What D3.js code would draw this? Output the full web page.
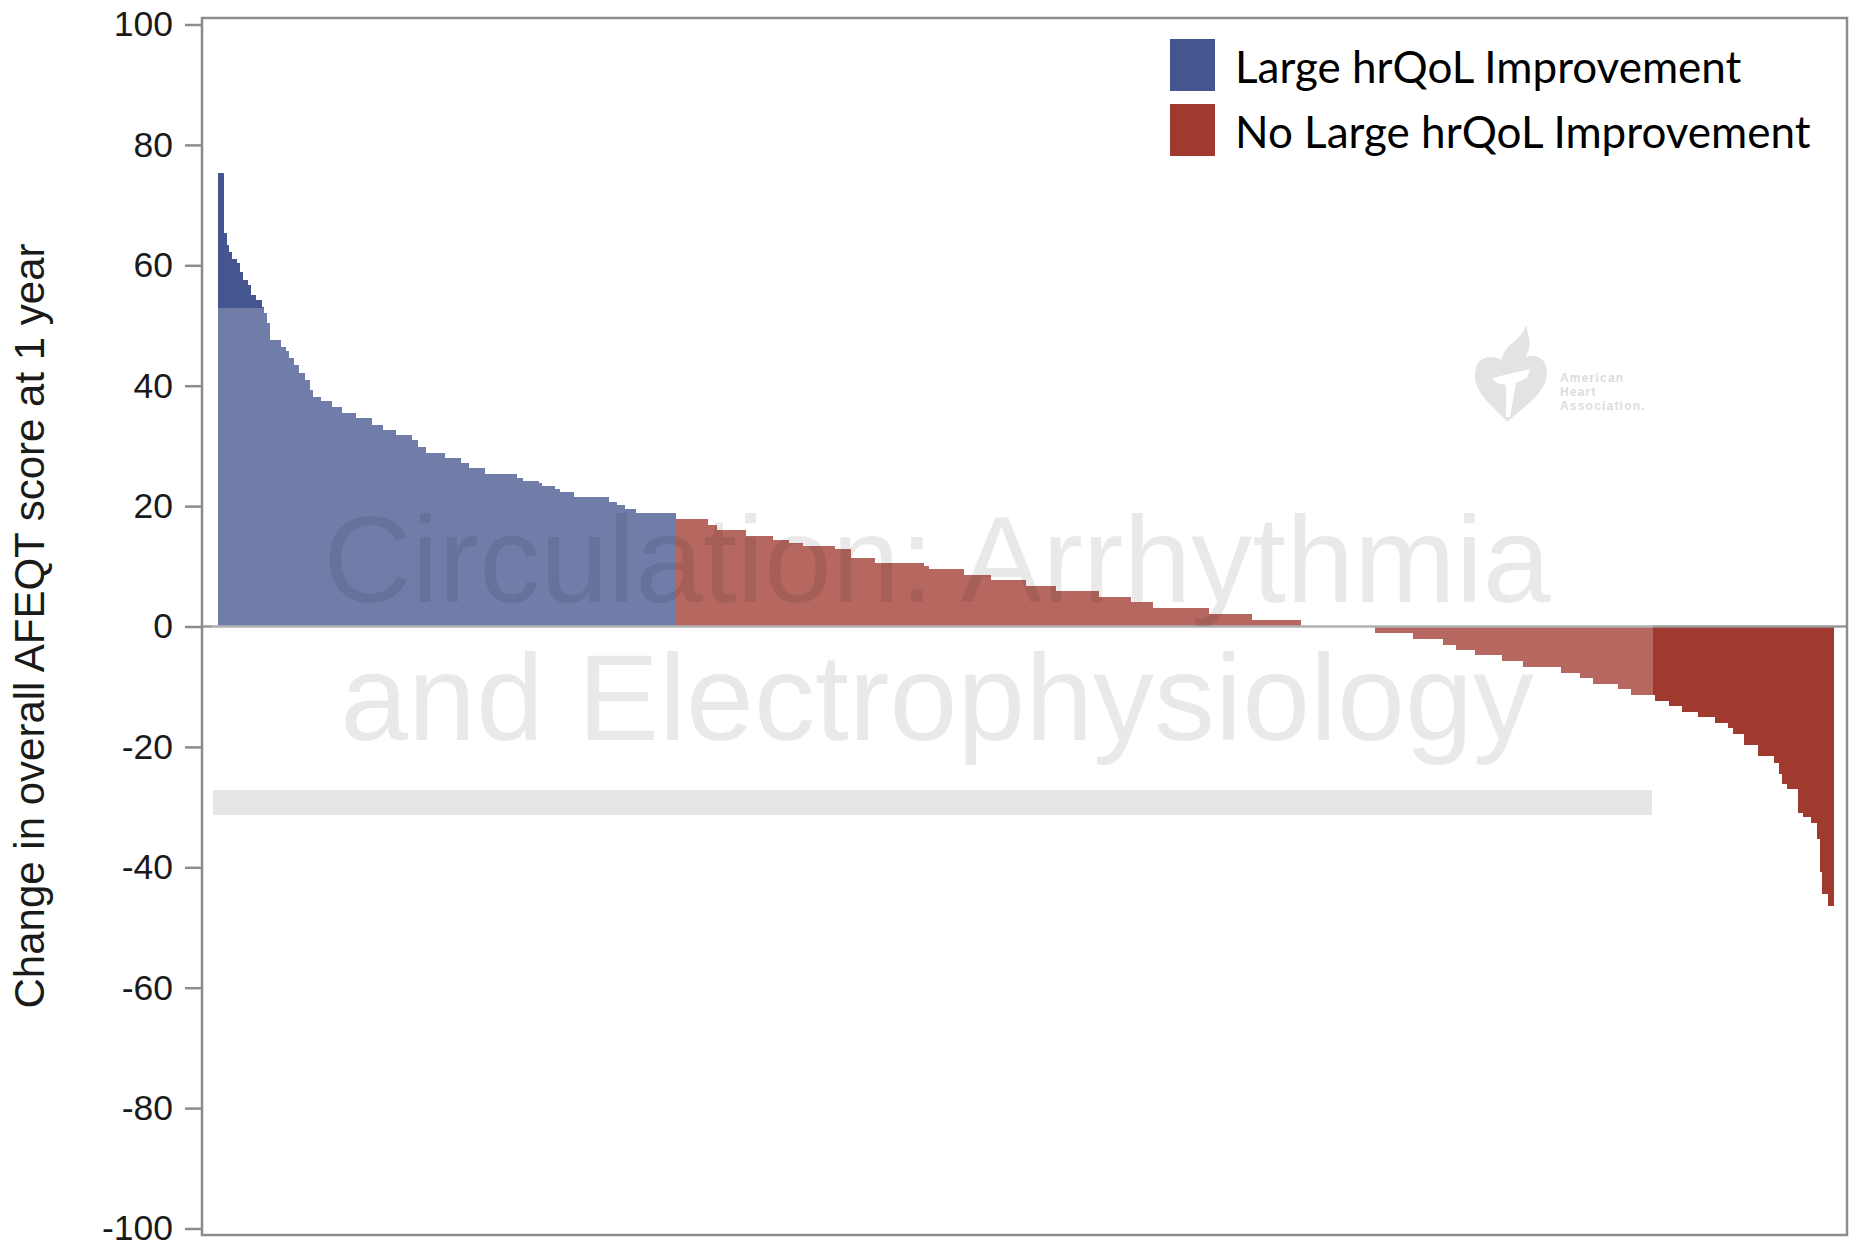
<!DOCTYPE html>
<html>
<head>
<meta charset="utf-8">
<script src="https://cdn.jsdelivr.net/npm/d3@7"></script>
<style>
  html, body { margin: 0; padding: 0; background: #fff; }
  svg { display: block; }
</style>
</head>
<body>
<script>
'use strict';

// change in AFEQT score at each step of the waterfall, and how many patients sit on that step
const largeValues = [75.3, 65.3, 63.3, 62.2, 61.1, 60.3, 58.9, 57.6, 56.7, 55.1, 54.2, 53.1, 52.0, 50.4,
    47.6, 46.5, 45.7, 44.6, 43.4, 42.1, 41.0, 39.3, 38.2, 37.4, 36.5, 35.4, 34.6, 33.5, 32.7, 31.8,
    31.0, 29.9, 28.9, 28.0, 27.1, 26.3, 25.4, 24.6, 24.2, 23.8, 23.4, 22.8, 22.4, 21.5, 20.7, 20.2,
    19.5, 18.8];
const largeCounts = [2, 1, 1, 1, 2, 1, 1, 2, 1, 2, 2, 1, 1, 1,
    4, 2, 1, 2, 2, 2, 2, 1, 3, 4, 4, 5, 6, 4, 5, 6,
    2, 3, 7, 6, 3, 6, 12, 2, 6, 1, 5, 2, 5, 13, 3, 3,
    4, 15];

const otherValues = [17.9, 16.9, 16.1, 15.1, 14.4, 13.9, 13.3, 12.9, 11.4, 10.6, 10.0, 9.6, 8.6, 7.7,
    6.7, 5.9, 4.9, 4.0, 3.1, 2.1, 1.1, 0, -1.1, -2.1, -3.1, -3.9, -4.8, -5.8, -6.7, -7.7, -8.6,
    -9.5, -10.4, -11.4, -12.3, -13.2, -14.2, -15.0, -16.1, -16.8, -17.9, -19.7, -21.5, -22.6,
    -24.5, -26.1, -27.0, -30.9, -31.7, -32.6, -35.3, -40.8, -44.4, -46.5];
const otherCounts = [12, 3, 11, 10, 6, 5, 12, 6, 9, 18, 2, 13, 10, 13,
    11, 16, 12, 8, 21, 16, 18, 28, 14, 11, 5, 7, 10, 8, 14, 7, 5,
    9, 5, 9, 5, 5, 6, 6, 5, 2, 4, 5, 6, 2,
    1, 2, 4, 2, 3, 2, 1, 1, 2, 2];

const yTicks = [100, 80, 60, 40, 20, 0, -20, -40, -60, -80, -100];
const groups = ["large", "other"];
const legendLabels = ["Large hrQoL Improvement", "No Large hrQoL Improvement"];
const yLabel = "Change in overall AFEQT score at 1 year";
const watermarkLines = ["Circulation: Arrhythmia", "and Electrophysiology"];
const logoLines = ["American", "Heart", "Association."];

const width = 1851
const height = 1247
const colors = {large: "#45558f", other: "#a0392e"}
const axisGrey = "#8c8c8c"

function expand(values, counts, group) {
    let out = []
    values.forEach(function (v, i) {
        for (let k = 0; k < counts[i]; k++) out.push({value: v, group: group})
    })
    return out
}

let patients = expand(largeValues, largeCounts, "large").concat(expand(otherValues, otherCounts, "other"))
patients.forEach((d, i) => d.idx = i)

let svg = d3.select("body").append("svg")
    .attr("width", width)
    .attr("height", height)

let x = d3.scaleBand()
    .domain(d3.range(patients.length))
    .range([218, 1833])
    .padding(0)

let y = d3.scaleLinear()
    .domain([-100, 100])
    .range([1228.5, 24.5])

// bars
svg.append("g")
    .attr("shape-rendering", "crispEdges")
    .selectAll("rect")
    .data(patients.filter(d => d.value !== 0))
    .enter()
    .append("rect")
    .attr("x", d => x(d.idx))
    .attr("width", x.bandwidth() + 0.6)
    .attr("y", d => y(Math.max(0, d.value)))
    .attr("height", d => Math.abs(y(d.value) - y(0)))
    .attr("fill", d => colors[d.group])

// zero line
svg.append("line")
    .attr("x1", 202).attr("x2", 1847)
    .attr("y1", y(0)).attr("y2", y(0))
    .attr("stroke", "#999").attr("stroke-width", 2.5)

// journal watermark: washed-out panel, title and grey strip
svg.append("rect")
    .attr("x", 212).attr("y", 308)
    .attr("width", 1653 - 212).attr("height", 822 - 308)
    .attr("fill", "#fff").attr("fill-opacity", 0.24)

svg.append("g")
    .selectAll("text")
    .data(watermarkLines)
    .enter()
    .append("text")
    .attr("x", 937)
    .attr("y", (d, i) => 602 + i * 138)
    .attr("text-anchor", "middle")
    .attr("font-family", "'Liberation Sans', Arial, sans-serif")
    .attr("font-size", 122)
    .attr("fill", "#000")
    .attr("fill-opacity", 0.085)
    .text(d => d)

svg.append("rect")
    .attr("x", 213).attr("y", 790)
    .attr("width", 1652 - 213).attr("height", 25)
    .attr("fill", "#e6e6e6")

// AHA logo
let logo = svg.append("g").attr("transform", "translate(1475,325)")
logo.append("path")
    .attr("d", "M36,45 C30,30 0,24 0,50 C0,70 20,82 32,97 C48,82 72,68 72,48 C72,24 44,28 36,45 Z")
    .attr("fill", "#e3e3e3")
logo.append("path")
    .attr("d", "M29,47 C22,34 31,22 41,15 C46,10 50,5 51,0 C53,10 57,17 53,27 C50,35 46,41 45,45 Z")
    .attr("fill", "#e3e3e3")
logo.append("path")
    .attr("d", "M17,53 L55,44 L52,53 L41,58 L35,92 L31,92 L31,60 L22,58 Z")
    .attr("fill", "#fff")
logo.append("g")
    .selectAll("text")
    .data(logoLines)
    .enter()
    .append("text")
    .attr("x", 85)
    .attr("y", (d, i) => 57 + i * 14)
    .attr("font-family", "'Liberation Sans', Arial, sans-serif")
    .attr("font-size", 12)
    .attr("font-weight", "bold")
    .attr("letter-spacing", 1.2)
    .attr("fill", "#dcdcdc")
    .text(d => d)

// frame
svg.append("rect")
    .attr("x", 202).attr("y", 18)
    .attr("width", 1847 - 202).attr("height", 1235 - 18)
    .attr("fill", "none")
    .attr("stroke", axisGrey)
    .attr("stroke-width", 2.5)

// y axis
let yAxis = svg.append("g")
    .attr("transform", "translate(202,0)")
    .call(d3.axisLeft(y).tickValues(yTicks).tickSize(17).tickPadding(12).tickFormat(d => String(d)))
yAxis.select(".domain").remove()
yAxis.selectAll(".tick line").attr("stroke", axisGrey).attr("stroke-width", 2.5)
yAxis.selectAll(".tick text")
    .attr("font-family", "'Liberation Sans', Arial, sans-serif")
    .attr("font-size", 35.5)
    .attr("fill", "#1a1a1a")

svg.append("text")
    .attr("transform", "translate(44,626) rotate(-90)")
    .attr("text-anchor", "middle")
    .attr("font-family", "'Liberation Sans', Arial, sans-serif")
    .attr("font-size", 42)
    .attr("fill", "#1a1a1a")
    .text(yLabel)

// legend
let legend = svg.append("g")
    .selectAll("g")
    .data(groups)
    .enter()
    .append("g")
    .attr("transform", (d, i) => `translate(1170,${39 + i * 65})`)
legend.append("rect")
    .attr("width", 45).attr("height", 52)
    .attr("fill", d => colors[d])
legend.append("text")
    .attr("x", 65)
    .attr("y", 44)
    .attr("font-family", "Lato, 'Noto Sans', sans-serif")
    .attr("font-size", 44)
    .attr("fill", "#000")
    .text((d, i) => legendLabels[i])
</script>
</body>
</html>
